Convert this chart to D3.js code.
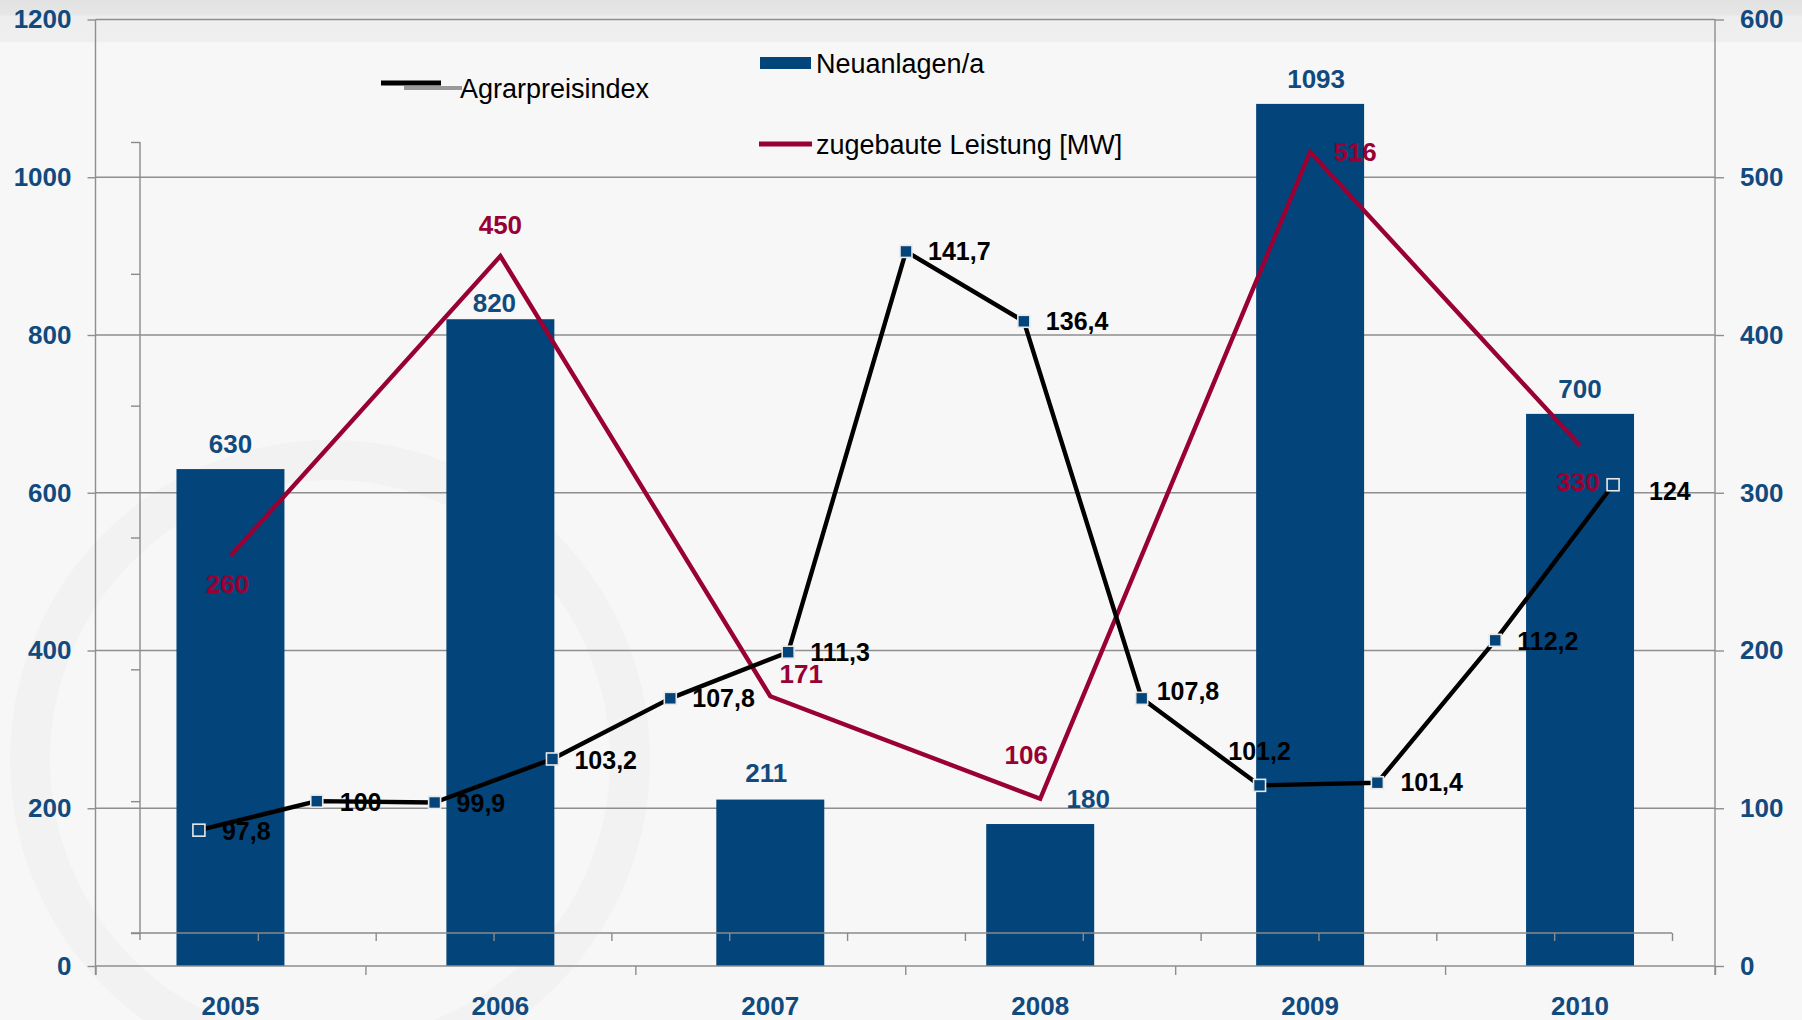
<!DOCTYPE html>
<html><head><meta charset="utf-8">
<script src="https://cdn.jsdelivr.net/npm/d3@7"></script>
<style>
html,body{margin:0;padding:0;background:#f7f7f7;}
svg{display:block;font-family:"Liberation Sans",Arial,sans-serif;}
</style></head>
<body>
<svg id="c" width="1802" height="1020"></svg>
<script>
// ---- data ----
const years = ["2005","2006","2007","2008","2009","2010"];
const neuanlagen = [630, 820, 211, 180, 1093, 700];
const leistung = [260, 450, 171, 106, 516, 330];
const agrarIndex = [97.8, 100, 99.9, 103.2, 107.8, 111.3, 141.7, 136.4, 107.8, 101.2, 101.4, 112.2, 124];
const agrarLabels = ["97,8","100","99,9","103,2","107,8","111,3","141,7","136,4","107,8","101,2","101,4","112,2","124"];
const leftTicks = [0, 200, 400, 600, 800, 1000, 1200];
const rightTicks = [0, 100, 200, 300, 400, 500, 600];
const indexTicks = [90, 100, 110, 120, 130, 140, 150];
const legendNames = ["Neuanlagen/a", "zugebaute Leistung [MW]", "Agrarpreisindex"];

// ---- label placement (separate from data) ----
const barLabelDx = [0, -6, -4, 48, 6, 0];
const barLabelDy = [-16, -7, -18, -16, -16, -16];
const leistungLabelDx = [-3, 0, 31, -14, 45, -2];
const leistungLabelDy = [28, -31, -22, -44, 0, 36];
const agrarLabelDx = [23, 23, 22, 22, 22, 22, 22, 22, 15, 0, 23, 22, 36];
const agrarLabelDy = [1, 1, 1, 1, 0, 0, 0, 0, -7, -34, 0, 1, 6];
const agrarLabelAnchor = ["start","start","start","start","start","start","start","start","start","middle","start","start","start"];

const BLUE = "#03457a", RED = "#990033", AXISTXT = "#114a7e", GRID = "#8e8e8e";
const svg = d3.select("#c");

// background
svg.append("rect").attr("width",1802).attr("height",1020).attr("fill","#f7f7f7");
const bg = svg.append("defs").append("linearGradient").attr("id","topg").attr("x1",0).attr("y1",0).attr("x2",0).attr("y2",1);
bg.append("stop").attr("offset","0%").attr("stop-color","#e2e2e2");
bg.append("stop").attr("offset","35%").attr("stop-color","#e6e6e6");
bg.append("stop").attr("offset","40%").attr("stop-color","#eeeeee");
bg.append("stop").attr("offset","100%").attr("stop-color","#efefef");
svg.append("rect").attr("x",0).attr("y",0).attr("width",1802).attr("height",42).attr("fill","url(#topg)");
// very faint watermark
svg.append("circle").attr("cx",330).attr("cy",760).attr("r",300).attr("fill","none").attr("stroke","#f2f2f2").attr("stroke-width",40);

// scales
const X0 = 95.5, X1 = 1715, Y0 = 966, YT = 19.5;
const x = d3.scaleBand().domain(years).range([X0, X1]).paddingInner(0.6).paddingOuter(0.3);
const yL = d3.scaleLinear().domain([0, 1200]).range([Y0, YT]);
const yR = d3.scaleLinear().domain([0, 600]).range([Y0, YT]);
const xi = d3.scaleBand().domain(d3.range(agrarIndex.length)).range([140, 1672]);
const yi = d3.scaleLinear().domain([90, 150]).range([933, 142]);

// gridlines
svg.append("g").selectAll("line").data(leftTicks.filter(d=>d>0)).join("line")
  .attr("x1", X0).attr("x2", X1).attr("y1", d=>yL(d)).attr("y2", d=>yL(d))
  .attr("stroke", GRID).attr("stroke-width", 1.3);

// bars
svg.append("g").selectAll("rect").data(neuanlagen).join("rect")
  .attr("x", (d,i)=>x(years[i])).attr("width", x.bandwidth())
  .attr("y", d=>yL(d)).attr("height", d=>Y0 - yL(d)).attr("fill", BLUE);

// inner (index) axes
const innerY = svg.append("g").attr("transform","translate(140,0)")
  .call(d3.axisLeft(yi).tickValues(indexTicks).tickSize(9).tickFormat(""));
innerY.select(".domain").attr("d","M0,142V940");
const innerX = svg.append("g").attr("transform","translate(0,933)")
  .call(d3.axisBottom(d3.scaleLinear().domain([0, agrarIndex.length]).range([140,1672]))
    .tickValues(d3.range(1, agrarIndex.length+1)).tickSize(8).tickFormat(""));
innerX.select(".domain").attr("d","M131,0H1672");
[innerY, innerX].forEach(g=>{g.selectAll("line,path").attr("stroke","#8a8a8a").attr("stroke-width",1.4);});

// left axis
const fmt = d3.format("d");
const la = svg.append("g").attr("transform",`translate(${X0},0)`)
  .call(d3.axisLeft(yL).tickValues(leftTicks).tickFormat(fmt).tickSize(8).tickPadding(16));
la.select(".domain").attr("d",`M0,${YT}V${Y0+9}`);
// right axis
const ra = svg.append("g").attr("transform",`translate(${X1},0)`)
  .call(d3.axisRight(yR).tickValues(rightTicks).tickFormat(fmt).tickSize(9).tickPadding(16));
ra.select(".domain").attr("d",`M0,${YT}V${Y0+9}`);
// bottom axis
const ba = svg.append("g").attr("transform",`translate(0,${Y0})`)
  .call(d3.axisBottom(d3.scaleLinear().domain([0, years.length]).range([X0, X1]))
    .tickValues(d3.range(0, years.length+1)).tickSize(9).tickFormat(""));
ba.select(".domain").attr("d",`M${X0},0H${X1}`);
[la, ra, ba].forEach(g=>{
  g.selectAll("line,path").attr("stroke", GRID).attr("stroke-width",1.4);
  g.selectAll("text").attr("fill", AXISTXT).attr("font-size","26px").attr("font-weight","bold")
   .attr("font-family","'Liberation Sans',Arial,sans-serif");
});
// category labels
svg.append("g").selectAll("text").data(years).join("text")
  .attr("x", d=>x(d)+x.bandwidth()/2).attr("y", 1015).attr("text-anchor","middle")
  .attr("fill", AXISTXT).attr("font-size","26px").attr("font-weight","bold").text(d=>d);

// bar value labels
svg.append("g").selectAll("text").data(neuanlagen).join("text")
  .attr("x", (d,i)=>x(years[i])+x.bandwidth()/2+barLabelDx[i]).attr("y", (d,i)=>yL(d)+barLabelDy[i])
  .attr("text-anchor","middle").attr("fill", AXISTXT).attr("font-size","26px").attr("font-weight","bold")
  .text(d=>d);

// red line
const redPts = leistung.map((d,i)=>[x(years[i])+x.bandwidth()/2, yR(d)]);
svg.append("path").attr("d", d3.line()(redPts)).attr("fill","none")
  .attr("stroke", RED).attr("stroke-width",4.4).attr("stroke-linejoin","miter");

// black index line
const idxPts = agrarIndex.map((d,i)=>[xi(i)+xi.bandwidth()/2, yi(d)]);
svg.append("path").attr("d", d3.line()(idxPts)).attr("fill","none")
  .attr("stroke","#000").attr("stroke-width",4.4).attr("stroke-linejoin","round");
svg.append("g").selectAll("rect").data(idxPts).join("rect")
  .attr("x", d=>d[0]-6).attr("y", d=>d[1]-6).attr("width",12).attr("height",12)
  .attr("fill", BLUE).attr("stroke","#e8e8e8").attr("stroke-width",1.6);

// red labels
svg.append("g").selectAll("text").data(leistung).join("text")
  .attr("x", (d,i)=>redPts[i][0]+leistungLabelDx[i]).attr("y", (d,i)=>redPts[i][1]+leistungLabelDy[i])
  .attr("dy","0.35em").attr("text-anchor","middle").attr("fill", RED)
  .attr("font-size","26px").attr("font-weight","bold").text(d=>d);

// index labels
svg.append("g").selectAll("text").data(agrarLabels).join("text")
  .attr("x", (d,i)=>idxPts[i][0]+agrarLabelDx[i]).attr("y", (d,i)=>idxPts[i][1]+agrarLabelDy[i])
  .attr("dy","0.35em").attr("text-anchor",(d,i)=>agrarLabelAnchor[i]).attr("fill","#000")
  .attr("font-size","25px").attr("font-weight","bold").text(d=>d);

// legend
const lg = svg.append("g").attr("font-size","27px").attr("fill","#000");
lg.append("rect").attr("x",760).attr("y",57).attr("width",51).attr("height",12).attr("fill", BLUE);
lg.append("text").attr("x",816).attr("y",73).text(legendNames[0]);
lg.append("line").attr("x1",759).attr("x2",812).attr("y1",144).attr("y2",144).attr("stroke",RED).attr("stroke-width",5);
lg.append("text").attr("x",816).attr("y",154).text(legendNames[1]);
lg.append("line").attr("x1",404).attr("x2",462).attr("y1",88).attr("y2",88).attr("stroke","#999").attr("stroke-width",4);
lg.append("line").attr("x1",381).attr("x2",441).attr("y1",83).attr("y2",83).attr("stroke","#000").attr("stroke-width",5);
lg.append("text").attr("x",460).attr("y",98).text(legendNames[2]);
</script>
</body></html>
